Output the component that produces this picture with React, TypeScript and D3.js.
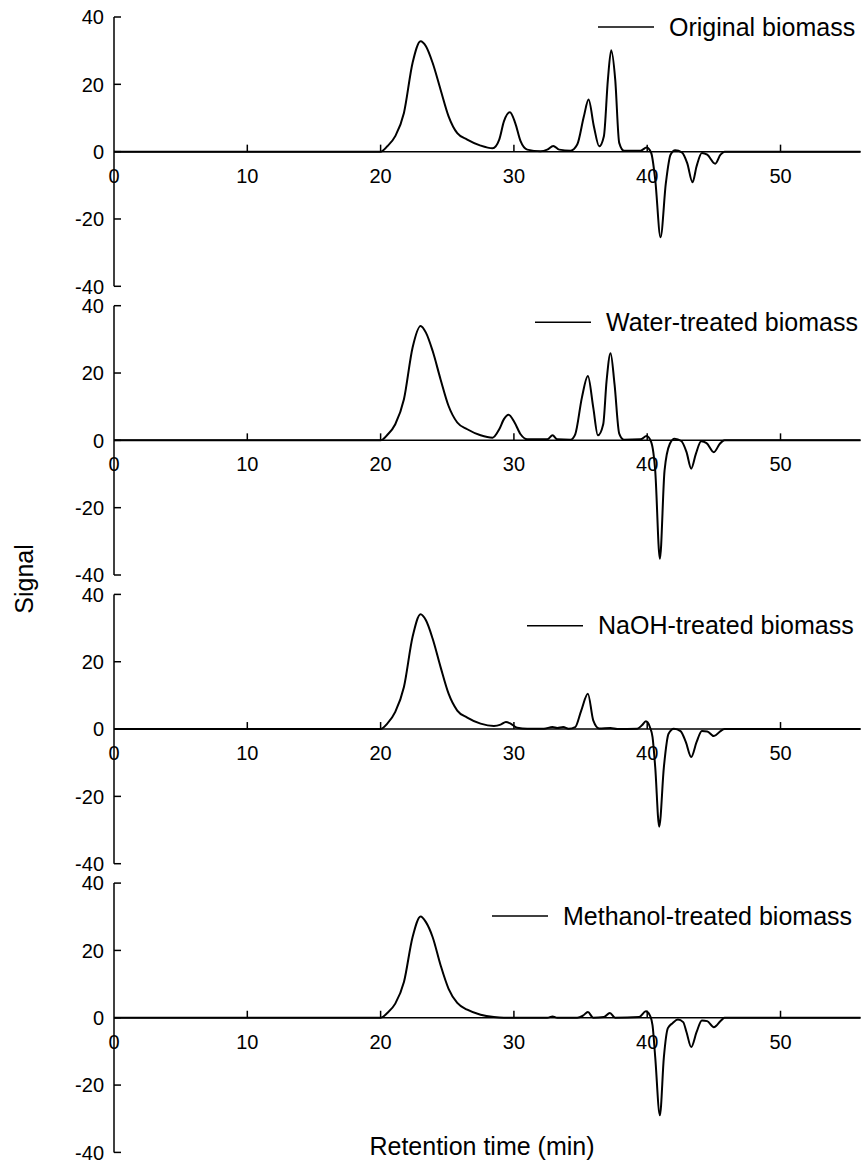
import React from "react";
import * as d3 from "d3";

type Pt = [number, number];

const xTicks = [0, 10, 20, 30, 40, 50];
const yTicks = [-40, -20, 0, 20, 40];
const seriesNames = [
  "Original biomass",
  "Water-treated biomass",
  "NaOH-treated biomass",
  "Methanol-treated biomass",
];

const original: Pt[] = [
  [0, 0], [20, 0], [20.5, 1.6], [21.1, 4.6], [21.75, 11.5], [22.4, 26.4], [23.0, 32.8],
  [23.4, 31.3], [23.9, 26.4], [24.5, 18.4], [25.1, 10.5], [25.75, 5.5], [26.5, 3.6],
  [27.5, 1.8], [28.4, 1.0], [28.9, 3.6], [29.25, 9.0], [29.7, 11.7], [30.1, 8.5],
  [30.5, 3.1], [31.0, 0.6], [32.0, 0.1], [32.5, 0.6], [32.95, 1.7], [33.4, 0.6],
  [34.25, 0.3], [34.75, 2.1], [35.25, 10.5], [35.6, 15.5], [36.0, 7.5], [36.4, 1.6],
  [36.75, 4.6], [37.05, 21.4], [37.3, 30.1], [37.6, 21.4], [37.9, 2.6], [38.25, 0.3],
  [39.5, 0.3], [39.95, 1.2], [40.3, -0.4], [40.6, -8.3], [41.0, -25.4], [41.4, -9.3],
  [41.75, -0.9], [42.1, 0.4], [42.6, -0.2], [43.0, -3.4], [43.4, -9.1], [43.7, -4.4],
  [44.1, -0.4], [44.5, -0.9], [45.1, -3.6], [45.5, -0.9], [45.8, 0], [56, 0],
];

const water: Pt[] = [
  [0, 0], [20, 0], [20.5, 1.6], [21.1, 4.8], [21.75, 12.2], [22.4, 27.6], [23.0, 34.0],
  [23.4, 32.0], [23.9, 26.6], [24.5, 18.1], [25.1, 10.2], [25.75, 5.3], [26.5, 3.3],
  [27.5, 1.5], [28.4, 0.8], [28.9, 3.3], [29.25, 6.3], [29.6, 7.6], [30.05, 5.3],
  [30.5, 1.8], [31.0, 0.3], [32.5, 0.3], [32.9, 1.5], [33.25, 0.3], [34.25, 0.2],
  [34.6, 1.8], [35.1, 12.7], [35.55, 19.1], [35.95, 9.8], [36.3, 1.5], [36.7, 4.8],
  [36.95, 17.6], [37.25, 25.9], [37.55, 16.6], [37.9, 2.0], [38.25, 0.2], [39.5, 0.3],
  [39.95, 1.3], [40.3, -0.5], [40.6, -9], [40.95, -35.2], [41.3, -9], [41.7, -1.0],
  [42.05, 0.5], [42.55, -0.2], [42.95, -3.5], [43.3, -8.4], [43.65, -4], [44.05, -0.3],
  [44.45, -0.8], [45.0, -3.5], [45.45, -1], [45.8, 0], [56, 0],
];

const naoh: Pt[] = [
  [0, 0], [20, 0], [20.5, 1.6], [21.1, 5.1], [21.75, 12.5], [22.4, 27.4], [23.0, 34.1],
  [23.4, 32.3], [23.9, 26.9], [24.5, 18.4], [25.1, 10.5], [25.75, 5.5], [26.5, 3.4],
  [27.5, 1.6], [28.5, 0.9], [29.0, 1.3], [29.4, 2.1], [29.75, 1.6], [30.25, 0.4],
  [31.0, 0.1], [32.25, 0.1], [32.9, 0.6], [33.25, 0.3], [33.7, 0.6], [34.1, 0.1],
  [34.6, 0.6], [35.05, 5.5], [35.55, 10.5], [35.95, 2.6], [36.4, 0.2], [37.25, 0.3],
  [37.75, 0], [39.25, 0.1], [39.6, 1.1], [39.9, 2.3], [40.2, 0.6], [40.4, -2.4],
  [40.6, -11.3], [40.9, -29], [41.25, -11.3], [41.6, -1.4], [42.0, 0.1], [42.5, -0.6],
  [42.9, -3.9], [43.3, -8.3], [43.7, -3.9], [44.1, -0.6], [44.5, -0.7], [45.0, -2.1],
  [45.5, -0.6], [45.8, 0], [56, 0],
];

const methanol: Pt[] = [
  [0, 0], [20, 0], [20.5, 1.4], [21.1, 4.2], [21.75, 10.6], [22.4, 24.0], [23.0, 30.1],
  [23.4, 28.4], [23.9, 24.0], [24.5, 15.6], [25.1, 8.6], [25.75, 4.4], [26.5, 2.4],
  [27.5, 0.9], [28.5, 0.2], [29.25, 0], [32.5, 0], [32.9, 0.4], [33.25, 0], [34.75, 0],
  [35.2, 0.7], [35.55, 1.7], [35.95, 0], [36.75, 0.2], [37.2, 1.4], [37.6, 0],
  [39.4, 0.2], [39.9, 1.9], [40.2, 0.7], [40.4, -2.3], [40.6, -11.7], [40.95, -29],
  [41.25, -11.7], [41.55, -3.1], [41.9, -1.6], [42.3, -0.5], [42.7, -1.3], [42.95, -4.3],
  [43.3, -8.7], [43.7, -4.3], [44.1, -0.8], [44.5, -1.0], [45.0, -2.8], [45.5, -1.0],
  [45.8, 0], [56, 0],
];

const seriesData: Pt[][] = [original, water, naoh, methanol];

// layout
const W = 867;
const H = 1164;
const X0 = 114;
const X1 = 860.5;
const PANEL_TOP0 = 17;
const PANEL_STEP = 288.7;
const PANEL_H = 269.3;
const LEGEND_LINE_Y = [27, 322.3, 625.7, 916];
const LEGEND_TEXT_X = [669, 606, 598, 563];
const FONT = "'Liberation Sans', Arial, Helvetica, sans-serif";

export default function App() {
  const x = d3.scaleLinear().domain([0, 56]).range([X0, X1]);

  return (
    <svg
      width={W}
      height={H}
      style={{ position: "absolute", left: 0, top: 0, background: "#fff" }}
      fontFamily={FONT}
    >
      <rect x={0} y={0} width={W} height={H} fill="#fff" />
      {seriesData.map((data, i) => {
        const top = PANEL_TOP0 + PANEL_STEP * i;
        const y = d3.scaleLinear().domain([-40, 40]).range([top + PANEL_H, top]);
        const line = d3
          .line<Pt>()
          .x((d) => x(d[0]))
          .y((d) => y(d[1]))
          .curve(d3.curveMonotoneX);
        const ly = LEGEND_LINE_Y[i];
        const lx = LEGEND_TEXT_X[i];
        return (
          <g key={i}>
            {/* y axis */}
            <line x1={X0} x2={X0} y1={y(40)} y2={y(-40)} stroke="#000" strokeWidth={1.5} />
            {yTicks.map((t) => (
              <g key={t}>
                <line x1={X0} x2={X0 + 7} y1={y(t)} y2={y(t)} stroke="#000" strokeWidth={1.5} />
                <text
                  x={X0 - 10}
                  y={y(t)}
                  dy="0.36em"
                  textAnchor="end"
                  fontSize={20}
                  fill="#000"
                >
                  {t}
                </text>
              </g>
            ))}
            {/* x axis at zero */}
            <line x1={X0} x2={x(56)} y1={y(0)} y2={y(0)} stroke="#000" strokeWidth={1.5} />
            {xTicks.map((t) => (
              <g key={t}>
                {t > 0 && (
                  <line x1={x(t)} x2={x(t)} y1={y(0)} y2={y(0) - 7} stroke="#000" strokeWidth={1.5} />
                )}
                <text x={x(t)} y={y(0) + 31} textAnchor="middle" fontSize={20} fill="#000">
                  {t}
                </text>
              </g>
            ))}
            {/* curve */}
            <path d={line(data) || ""} fill="none" stroke="#000" strokeWidth={2} strokeLinejoin="round" />
            {/* legend */}
            <line x1={lx - 71} x2={lx - 15} y1={ly} y2={ly} stroke="#000" strokeWidth={1.5} />
            <text x={lx} y={ly + 8.5} fontSize={25} fill="#000">
              {seriesNames[i]}
            </text>
          </g>
        );
      })}
      <text
        transform={`translate(33,579) rotate(-90)`}
        textAnchor="middle"
        fontSize={25}
        fill="#000"
      >
        Signal
      </text>
      <text x={482} y={1155} textAnchor="middle" fontSize={25} fill="#000">
        Retention time (min)
      </text>
    </svg>
  );
}
